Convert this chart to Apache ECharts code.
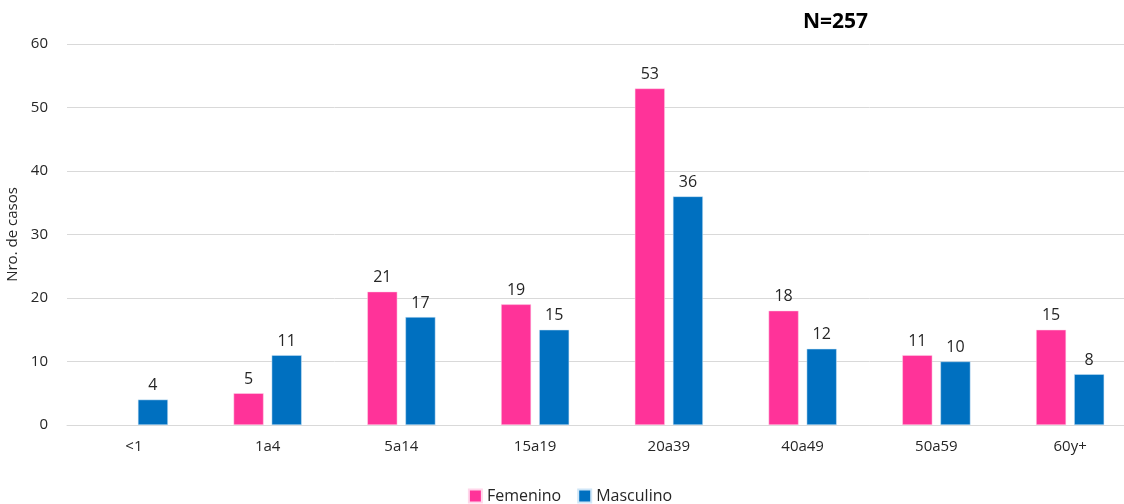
<!DOCTYPE html>
<html>
<head>
<meta charset="utf-8">
<script src="https://cdn.jsdelivr.net/npm/echarts@6/dist/echarts.min.js"></script>
<style>
html, body { margin: 0; padding: 0; background: #fff; overflow: hidden; }
/* el gráfico es más ancho que la ventana: el área de trazado se corta a la derecha como en el original */
#chart { width: 1140px; height: 504px; }
</style>
</head>
<body>
<div id="chart"></div>
<script>
// datos
var categorias = ['<1', '1a4', '5a14', '15a19', '20a39', '40a49', '50a59', '60y+'];
var femenino = [null, 5, 21, 19, 53, 18, 11, 15];
var masculino = [4, 11, 17, 15, 36, 12, 10, 8];
var ticksY = [0, 10, 20, 30, 40, 50, 60];

var fuente = '"Open Sans", "Noto Sans", sans-serif';
var myChart = echarts.init(document.getElementById('chart'));
var option = {
    animation: false,
    title: {
        text: 'N=257',
        left: 798,
        top: 7,
        textStyle: { fontSize: 21, fontWeight: 'bold', color: '#000', fontFamily: fuente }
    },
    legend: {
        bottom: -5,
        left: 'center',
        itemWidth: 13,
        itemHeight: 13,
        itemGap: 16,
        icon: 'rect',
        textStyle: { fontSize: 16, color: '#262626', fontFamily: fuente },
        data: ['Femenino', 'Masculino']
    },
    grid: { left: 67, right: 3, top: 44, bottom: 79, outerBoundsMode: 'none', containLabel: false },
    xAxis: {
        type: 'category',
        data: categorias,
        axisLine: { lineStyle: { color: '#d9d9d9' } },
        axisTick: { show: false },
        axisLabel: { fontSize: 15, color: '#262626', margin: 14, fontFamily: fuente }
    },
    yAxis: {
        type: 'value',
        min: 0,
        max: ticksY[ticksY.length - 1],
        interval: 10,
        name: 'Nro. de casos',
        nameLocation: 'middle',
        nameGap: 41,
        nameTextStyle: { fontSize: 15, color: '#262626', fontFamily: fuente },
        axisLabel: { fontSize: 15, color: '#262626', margin: 19, fontFamily: fuente },
        splitLine: { lineStyle: { color: '#d9d9d9' } }
    },
    series: [{
        name: 'Femenino',
        type: 'bar',
        barWidth: 30,
        barGap: '27%',
        itemStyle: { color: '#FF3399', borderColor: '#ffd6ea', borderWidth: 0.5 },
        label: { show: true, position: 'top', fontSize: 16, color: '#262626', distance: 6, fontFamily: fuente },
        data: femenino
    }, {
        name: 'Masculino',
        type: 'bar',
        barWidth: 30,
        itemStyle: { color: '#0070C0', borderColor: '#cfe6f7', borderWidth: 0.5 },
        label: { show: true, position: 'top', fontSize: 16, color: '#262626', distance: 6, fontFamily: fuente },
        data: masculino
    }]
};
myChart.setOption(option);
</script>
</body>
</html>
